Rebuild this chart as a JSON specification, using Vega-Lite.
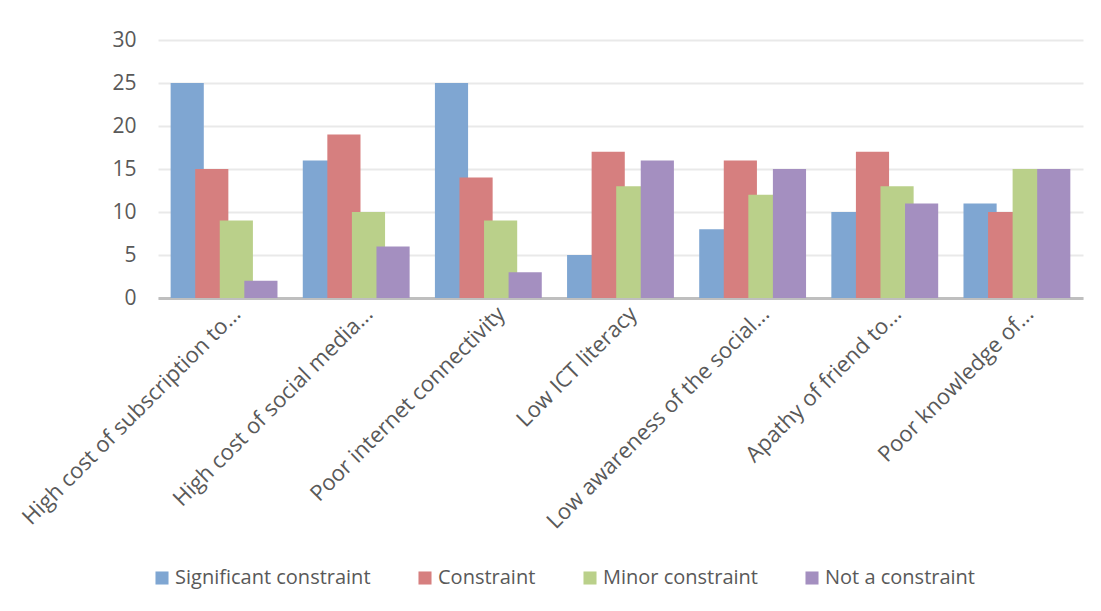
{
  "$schema": "https://vega.github.io/schema/vega-lite/v6.json",
  "width": 925,
  "height": 258,
  "autosize": {"type": "none"},
  "padding": {"left": 158, "top": 40, "right": 18, "bottom": 313},
  "background": "white",
  "data": {
    "values": [
      {"factor": "High cost of subscription to...", "series": "Significant constraint", "value": 25},
      {"factor": "High cost of subscription to...", "series": "Constraint", "value": 15},
      {"factor": "High cost of subscription to...", "series": "Minor constraint", "value": 9},
      {"factor": "High cost of subscription to...", "series": "Not a constraint", "value": 2},
      {"factor": "High cost of social media...", "series": "Significant constraint", "value": 16},
      {"factor": "High cost of social media...", "series": "Constraint", "value": 19},
      {"factor": "High cost of social media...", "series": "Minor constraint", "value": 10},
      {"factor": "High cost of social media...", "series": "Not a constraint", "value": 6},
      {"factor": "Poor internet connectivity", "series": "Significant constraint", "value": 25},
      {"factor": "Poor internet connectivity", "series": "Constraint", "value": 14},
      {"factor": "Poor internet connectivity", "series": "Minor constraint", "value": 9},
      {"factor": "Poor internet connectivity", "series": "Not a constraint", "value": 3},
      {"factor": "Low ICT literacy", "series": "Significant constraint", "value": 5},
      {"factor": "Low ICT literacy", "series": "Constraint", "value": 17},
      {"factor": "Low ICT literacy", "series": "Minor constraint", "value": 13},
      {"factor": "Low ICT literacy", "series": "Not a constraint", "value": 16},
      {"factor": "Low awareness of the social...", "series": "Significant constraint", "value": 8},
      {"factor": "Low awareness of the social...", "series": "Constraint", "value": 16},
      {"factor": "Low awareness of the social...", "series": "Minor constraint", "value": 12},
      {"factor": "Low awareness of the social...", "series": "Not a constraint", "value": 15},
      {"factor": "Apathy of friend to...", "series": "Significant constraint", "value": 10},
      {"factor": "Apathy of friend to...", "series": "Constraint", "value": 17},
      {"factor": "Apathy of friend to...", "series": "Minor constraint", "value": 13},
      {"factor": "Apathy of friend to...", "series": "Not a constraint", "value": 11},
      {"factor": "Poor knowledge of...", "series": "Significant constraint", "value": 11},
      {"factor": "Poor knowledge of...", "series": "Constraint", "value": 10},
      {"factor": "Poor knowledge of...", "series": "Minor constraint", "value": 15},
      {"factor": "Poor knowledge of...", "series": "Not a constraint", "value": 15}
    ]
  },
  "mark": {"type": "bar", "width": {"band": 1.35}},
  "encoding": {
    "x": {
      "field": "factor",
      "type": "nominal",
      "sort": null,
      "scale": {"paddingInner": 0.2565, "paddingOuter": 0.12825, "align": 0.88},
      "axis": {
        "title": null,
        "labelAngle": -45,
        "labelAlign": "right",
        "labelBaseline": "middle",
        "labelFont": "Open Sans",
        "labelFontSize": 22,
        "labelColor": "#595959",
        "labelPadding": 12,
        "labelLimit": 500,
        "ticks": false,
        "domainColor": "#bfbfbf",
        "domainWidth": 3,
        "grid": false
      }
    },
    "xOffset": {
      "field": "series",
      "type": "nominal",
      "sort": ["Significant constraint", "Constraint", "Minor constraint", "Not a constraint"],
      "scale": {"paddingInner": 0, "paddingOuter": 0}
    },
    "y": {
      "field": "value",
      "type": "quantitative",
      "scale": {"domain": [0, 30], "nice": false},
      "axis": {
        "title": null,
        "values": [0, 5, 10, 15, 20, 25, 30],
        "labelFont": "Open Sans",
        "labelFontSize": 21,
        "labelColor": "#595959",
        "labelPadding": 22,
        "ticks": false,
        "domain": false,
        "gridColor": "#e9e9e9",
        "gridWidth": 2
      }
    },
    "color": {
      "field": "series",
      "type": "nominal",
      "sort": ["Significant constraint", "Constraint", "Minor constraint", "Not a constraint"],
      "scale": {
        "domain": ["Significant constraint", "Constraint", "Minor constraint", "Not a constraint"],
        "range": ["#7fa6d2", "#d67f7f", "#bad08a", "#a48fc0"]
      },
      "legend": {
        "title": null,
        "orient": "none",
        "direction": "horizontal",
        "legendX": -6,
        "legendY": 528,
        "symbolType": "square",
        "symbolSize": 170,
        "symbolStrokeWidth": 0,
        "labelFont": "Open Sans",
        "labelFontSize": 20,
        "labelColor": "#595959",
        "labelOffset": 3,
        "columnPadding": 44,
        "labelLimit": 400
      }
    }
  },
  "config": {"view": {"stroke": null}}
}
